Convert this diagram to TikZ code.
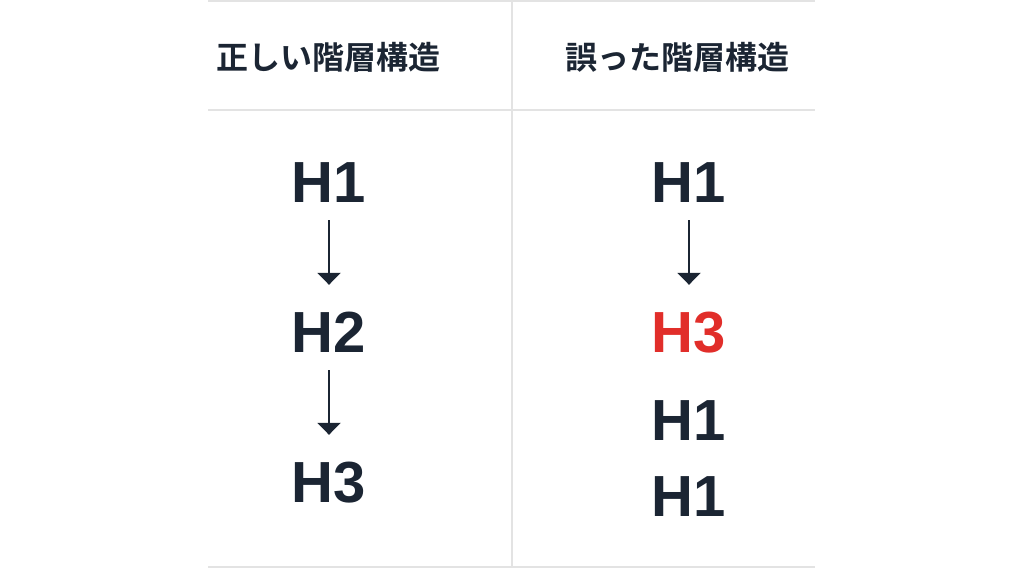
\documentclass[tikz,border=0pt]{standalone}
\usepackage{fontspec}
\newfontfamily\jpfont{Noto Sans CJK JP}[BoldFont={* Bold}]
\newfontfamily\hfont{Liberation Sans}
\usetikzlibrary{arrows.meta}
\definecolor{ink}{HTML}{1B2533}
\definecolor{errred}{HTML}{E12E2A}
\definecolor{rule}{HTML}{E3E3E3}
\begin{document}
\begin{tikzpicture}[x=1pt,y=-1pt,
  hd/.style={font=\jpfont\bfseries\fontsize{32}{36}\selectfont, text=ink, anchor=west, inner sep=0pt},
  hx/.style={font=\hfont\bfseries\fontsize{58}{60}\selectfont, text=ink, inner sep=0pt, text height=42pt, text depth=0pt},
  flow/.style={draw=ink, line width=2.2pt, -{Triangle[width=23pt,length=12pt]}},
  grid/.style={draw=rule, line width=1.8pt}]
\useasboundingbox (0,0) rectangle (1024,576);
\coordinate (tl) at (208,1);
\coordinate (tr) at (815,1);
\coordinate (ml) at (208,110);
\coordinate (mr) at (815,110);
\coordinate (bl) at (208,567);
\coordinate (br) at (815,567);
\coordinate (vt) at (512,0);
\coordinate (vb) at (512,568);
\draw[grid] (tl) -- (tr);
\draw[grid] (ml) -- (mr);
\draw[grid] (bl) -- (br);
\draw[grid] (vt) -- (vb);
\node[hd] (hl) at (216,57) {正しい階層構造};
\node[hd] (hr) at (565,57) {誤った階層構造};
\node[hx] (a1) at (329,181) {H1};
\node[hx] (a2) at (329,331) {H2};
\node[hx] (a3) at (329,481) {H3};
\draw[flow, shorten <=18pt, shorten >=25pt] (a1) -- (a2);
\draw[flow, shorten <=18pt, shorten >=25pt] (a2) -- (a3);
\node[hx] (b1) at (689,181) {H1};
\node[hx, text=errred] (b2) at (689,331) {H3};
\node[hx] (b3) at (689,419) {H1};
\node[hx] (b4) at (689,495) {H1};
\draw[flow, shorten <=18pt, shorten >=25pt] (b1) -- (b2);
\end{tikzpicture}
\end{document}
